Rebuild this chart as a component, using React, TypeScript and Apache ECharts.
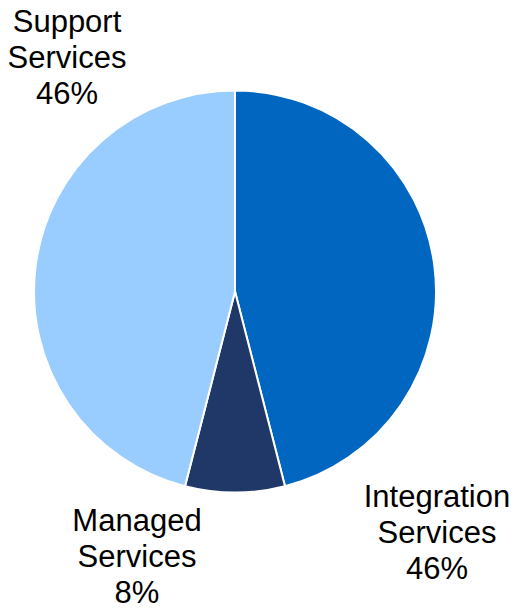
import React, { useEffect, useRef } from "react";
import * as echarts from "echarts";

// Revenue mix by service line (percent)
const segments = ["Integration Services", "Managed Services", "Support Services"];
const shares = [46, 8, 46];
const colors = ["#0066C0", "#1F3868", "#99CCFF"];

// Label anchor points (center of each text block), per slice
const labelAnchors: [number, number][] = [
  [437, 532],
  [137, 556],
  [67, 57],
];

export default function App() {
  const ref = useRef<HTMLDivElement>(null);

  useEffect(() => {
    if (!ref.current) return;
    const chart = echarts.init(ref.current, undefined, { renderer: "svg" });
    chart.setOption({
      animation: false,
      backgroundColor: "#ffffff",
      series: [
        {
          type: "pie",
          center: [235, 291.5],
          radius: [0, 201],
          startAngle: 90,
          clockwise: true,
          avoidLabelOverlap: false,
          itemStyle: { borderColor: "#ffffff", borderWidth: 2 },
          label: {
            show: true,
            position: "outside",
            formatter: (p: any) => `${p.name.replace(" ", "\n")}\n${Math.round(p.percent)}%`,
            fontFamily: "'Liberation Sans', Arial, sans-serif",
            fontSize: 31,
            lineHeight: 36,
            color: "#000000",
            align: "center",
          },
          labelLine: { show: false },
          labelLayout: (params: any) => {
            const [x, y] = labelAnchors[params.dataIndex];
            return { x, y, align: "center", verticalAlign: "middle" };
          },
          data: segments.map((name, i) => ({
            name,
            value: shares[i],
            itemStyle: { color: colors[i] },
          })),
        },
      ],
    });
    return () => chart.dispose();
  }, []);

  return <div ref={ref} style={{ width: 515, height: 609, position: "absolute", left: 0, top: 0 }} />;
}
